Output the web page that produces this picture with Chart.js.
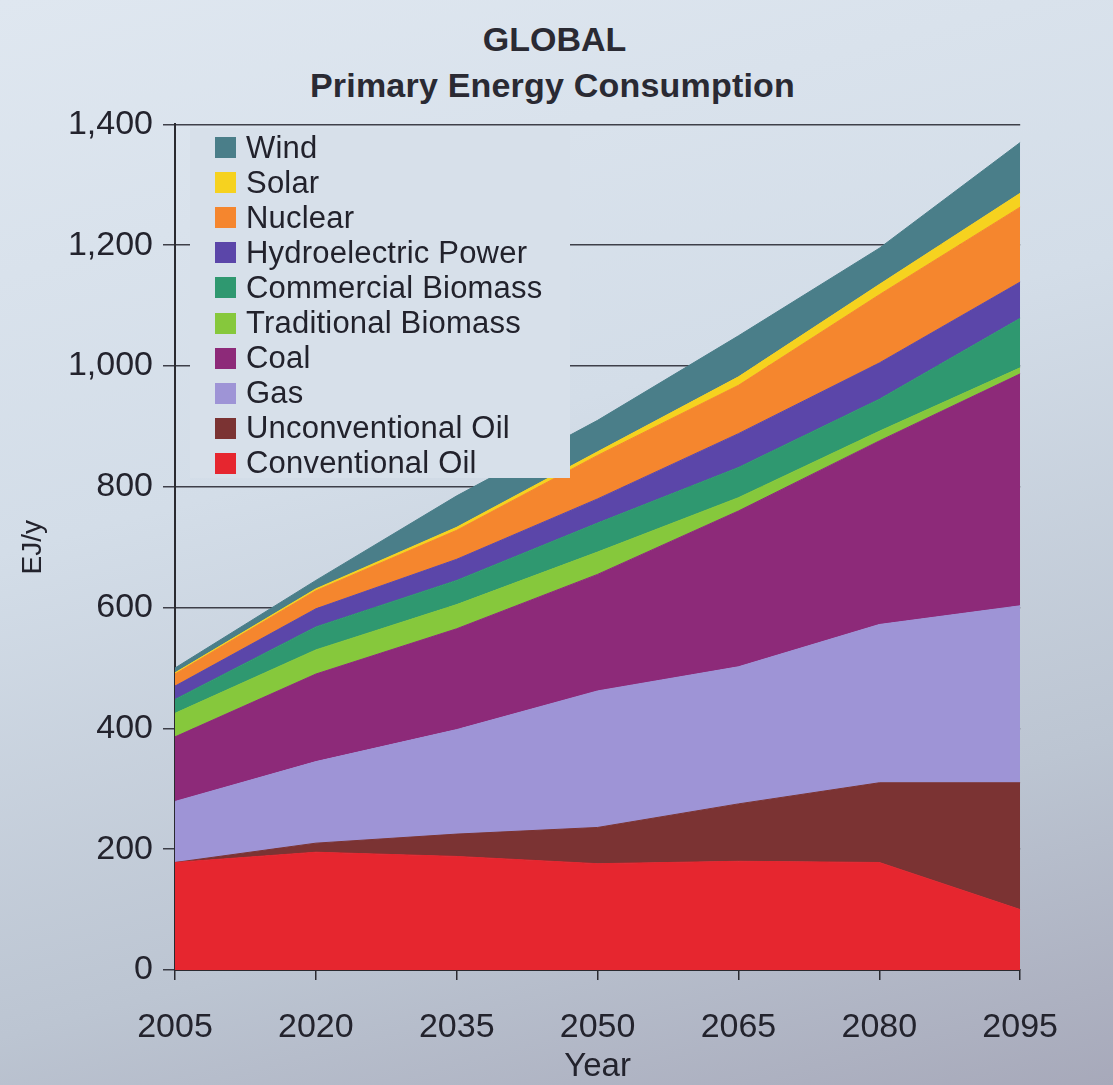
<!DOCTYPE html>
<html lang="en">

<head>
    <meta charset="UTF-8">
    <title>GLOBAL Primary Energy Consumption</title>
    <script src="https://cdn.jsdelivr.net/npm/chart.js"></script>
    <style>
        html, body {
            margin: 0;
            padding: 0;
        }

        body {
            width: 1113px;
            height: 1085px;
            overflow: hidden;
            position: relative;
            font-family: "Liberation Sans", Arial, sans-serif;
            background: linear-gradient(165deg, #dfe7f0 0%, #d3dde8 40%, #bcc5d2 75%, #a7a9ba 100%);
        }

        .titulo {
            position: absolute;
            left: 0;
            width: 1113px;
            text-align: center;
            font-weight: bold;
            color: #2a2a33;
        }

        #t1 { top: 20px; font-size: 34px; left: -2px; }
        #t2 { top: 66px; font-size: 34px; left: -4px; letter-spacing: 0.2px; }

        .grafico {
            position: absolute;
            left: 0;
            top: 94px;
            width: 1085px;
            height: 991px;
        }

        #legenda {
            position: absolute;
            left: 190px;
            top: 128px;
            width: 380px;
            height: 350px;
            background: #d7e0ea;
            padding-top: 2px;
            box-sizing: border-box;
        }

        .item {
            height: 35.1px;
            display: flex;
            align-items: center;
            font-size: 31px;
            letter-spacing: 0.2px;
            color: #22222c;
        }

        .caixa {
            width: 21px;
            height: 21px;
            margin-left: 25px;
            margin-right: 10px;
        }
    </style>
</head>

<body>

    <div class="titulo" id="t1">GLOBAL</div>
    <div class="titulo" id="t2">Primary Energy Consumption</div>

    <div class="grafico">
        <canvas id="canva1"></canvas>
    </div>

    <div id="legenda"></div>

</body>

</html>

<script>

    // anos (eixo x)
    var anos = ["2005", "2020", "2035", "2050", "2065", "2080", "2095"];

    // EJ/y por fonte (empilhado de baixo pra cima)
    var oleoConvencional = [178, 195, 188, 176, 180, 178, 100];
    var oleoNaoConvencional = [0, 15, 37, 60, 95, 132, 210];
    var gas = [101, 135, 173, 226, 227, 262, 293];
    var carvao = [107, 145, 167, 193, 258, 304, 384];
    var biomassaTradicional = [39, 40, 40, 37, 22, 16, 10];
    var biomassaComercial = [23, 38, 40, 48, 50, 53, 82];
    var hidreletrica = [22, 30, 35, 40, 56, 60, 60];
    var nuclear = [20, 30, 48, 72, 80, 113, 124];
    var solar = [2, 3, 5, 6, 14, 17, 23];
    var vento = [8, 14, 52, 52, 68, 60, 84];

    var nomes = ["Conventional Oil", "Unconventional Oil", "Gas", "Coal", "Traditional Biomass",
        "Commercial Biomass", "Hydroelectric Power", "Nuclear", "Solar", "Wind"];
    var series = [oleoConvencional, oleoNaoConvencional, gas, carvao, biomassaTradicional,
        biomassaComercial, hidreletrica, nuclear, solar, vento];
    var cores = ["#e6262f", "#7b3333", "#9e94d6", "#8d2a79", "#86c83c",
        "#2f9870", "#5b46a9", "#f5862e", "#f6d21f", "#4a7e89"];

    // y ticks
    var yMin = 0;
    var yMax = 1400;
    var yPasso = 200;

    var fonte = "'Liberation Sans', Arial, sans-serif";

    var datasets = [];
    for (var i = 0; i < series.length; i++) {
        datasets.push({
            label: nomes[i],
            data: series[i],
            backgroundColor: cores[i],
            borderColor: cores[i],
            borderWidth: 1,
            pointRadius: 0,
            tension: 0,
            fill: i == 0 ? "origin" : "-1",
        });
    }

    Chart.defaults.font.family = fonte;
    Chart.defaults.color = "#23232d";

    new Chart(document.getElementById("canva1"), {
        type: "line",
        data: {
            labels: anos,
            datasets: datasets,
        },
        options: {
            responsive: true,
            maintainAspectRatio: false,
            animation: false,
            layout: {
                padding: { top: 0, right: 15, bottom: 0, left: 0 },
            },
            plugins: {
                legend: { display: false },
                tooltip: { enabled: false },
            },
            scales: {
                x: {
                    afterFit: function (s) { s.height = 115; },
                    border: { color: "#2a2a30", width: 2 },
                    grid: { drawOnChartArea: false, tickLength: 10, color: "#2a2a30", lineWidth: 1.5 },
                    ticks: { font: { size: 34 }, padding: 27, maxRotation: 0 },
                    title: {
                        display: true,
                        text: "Year",
                        font: { size: 33 },
                        padding: { top: 0, bottom: -2 },
                    },
                },
                y: {
                    stacked: true,
                    min: yMin,
                    max: yMax,
                    afterFit: function (s) { s.width = 175; },
                    border: { color: "#2a2a30", width: 2 },
                    grid: { color: "rgba(35,35,45,0.85)", lineWidth: 1.5, tickLength: 12 },
                    ticks: { stepSize: yPasso, font: { size: 34 }, padding: 10 },
                    title: {
                        display: true,
                        text: "EJ/y",
                        font: { size: 28 },
                        padding: { top: 16, bottom: 16 },
                    },
                },
            },
        },
    });

    // legenda dentro do grafico, de cima (Wind) pra baixo
    var legenda = document.getElementById("legenda");
    for (var j = nomes.length - 1; j >= 0; j--) {
        var item = document.createElement("div");
        item.className = "item";
        item.innerHTML = '<div class="caixa" style="background:' + cores[j] + '"></div><span>' + nomes[j] + '</span>';
        legenda.appendChild(item);
    }
</script>
